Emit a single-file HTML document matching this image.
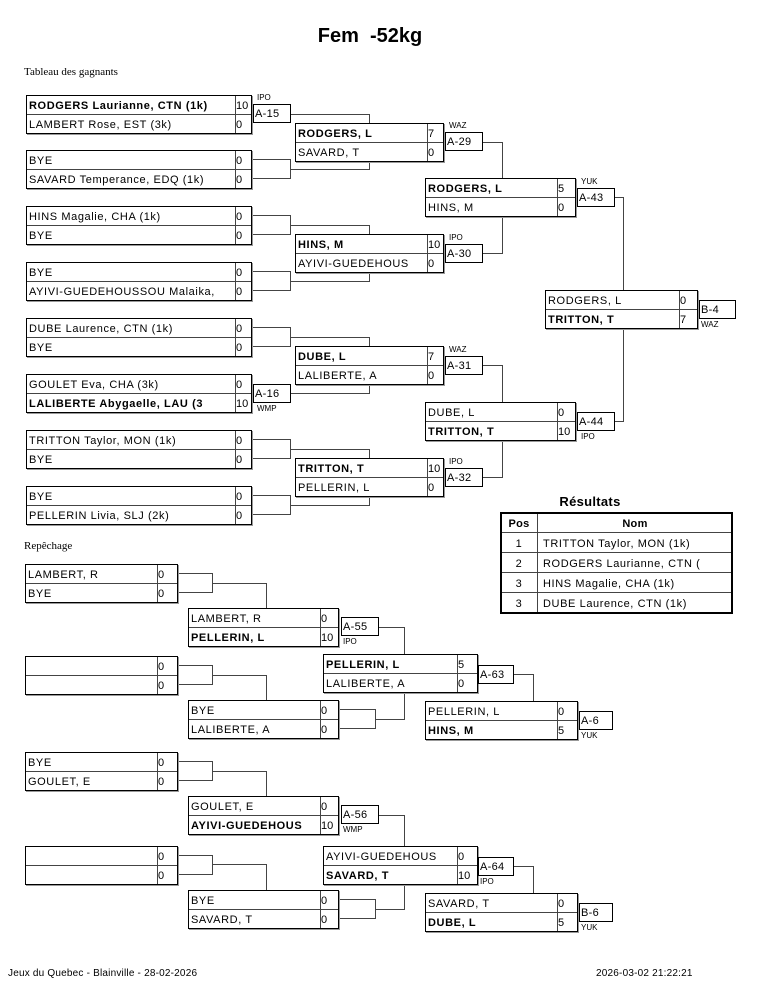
<!DOCTYPE html>
<html><head><meta charset="utf-8"><style>
html,body{margin:0;padding:0;background:#fff}
svg{display:block}
text{font-family:"Liberation Sans",sans-serif;font-size:11px;letter-spacing:0.6px;fill:#000}
.b{font-weight:bold}
.n{font-size:8px;letter-spacing:0}
.bx{fill:#fff;stroke:#000;stroke-width:1}
.sh{stroke:#999;stroke-width:1;fill:none}
.ln{stroke:#444;stroke-width:1;fill:none}
</style></head><body>
<svg width="765" height="990" viewBox="0 0 765 990" xmlns="http://www.w3.org/2000/svg">
<text x="370" y="42" text-anchor="middle" style="font-size:20px;font-weight:bold;letter-spacing:0">Fem&#160; -52kg</text>
<text x="24" y="75" style="font-family:'Liberation Serif',serif;font-size:11px;letter-spacing:0">Tableau des gagnants</text>
<text x="24" y="549" style="font-family:'Liberation Serif',serif;font-size:11px;letter-spacing:0">Repêchage</text>
<text x="8" y="976" style="font-size:10px;letter-spacing:0.2px">Jeux du Quebec - Blainville - 28-02-2026</text>
<text x="596" y="976" style="font-size:10px;letter-spacing:0.2px">2026-03-02 21:22:21</text>

<g class="ln">
<path d="M290.5 114.5H369.5V123"/>
<path d="M251 159.5H290.5V178.5H251M290.5 169.5H369.5V161"/>
<path d="M251 215.5H290.5V234.5H251M290.5 225.5H369.5V234"/>
<path d="M251 271.5H290.5V290.5H251M290.5 281.5H369.5V272"/>
<path d="M251 327.5H290.5V346.5H251M290.5 337.5H369.5V346"/>
<path d="M290.5 393.5H369.5V384"/>
<path d="M251 439.5H290.5V458.5H251M290.5 449.5H369.5V458"/>
<path d="M251 495.5H290.5V514.5H251M290.5 505.5H369.5V496"/>
<path d="M482 142.5H502.5V178"/>
<path d="M482 253.5H502.5V216"/>
<path d="M482 365.5H502.5V402"/>
<path d="M482 477.5H502.5V440"/>
<path d="M614 197.5H623.5V290"/>
<path d="M614 421.5H623.5V328"/>
<path d="M177 573.5H212.5V592.5H177M212.5 583.5H266.5V608"/>
<path d="M177 665.5H212.5V684.5H177M212.5 675.5H266.5V700"/>
<path d="M378 627.5H404.5V654"/>
<path d="M338 709.5H375.5V728.5H338M375.5 719.5H404.5V692"/>
<path d="M513 674.5H533.5V701"/>
<path d="M177 761.5H212.5V780.5H177M212.5 771.5H266.5V796"/>
<path d="M177 855.5H212.5V874.5H177M212.5 864.5H266.5V890"/>
<path d="M378 815.5H404.5V846"/>
<path d="M338 899.5H375.5V918.5H338M375.5 909.5H404.5V884"/>
<path d="M513 866.5H533.5V893"/>
</g>

<g>
<path class="sh" d="M252.5 96V134.5H27"/><rect class="bx" x="26.5" y="95.5" width="225" height="38"/><path class="ln" d="M27 114.5H251M235.5 96V133"/>
<text x="29" y="109" class="b">RODGERS Laurianne, CTN (1k)</text><text x="236" y="109" style="letter-spacing:0">10</text>
<text x="29" y="128">LAMBERT Rose, EST (3k)</text><text x="236" y="128">0</text>

<path class="sh" d="M252.5 151V189.5H27"/><rect class="bx" x="26.5" y="150.5" width="225" height="38"/><path class="ln" d="M27 169.5H251M235.5 151V188"/>
<text x="29" y="164">BYE</text><text x="236" y="164">0</text>
<text x="29" y="183">SAVARD Temperance, EDQ (1k)</text><text x="236" y="183">0</text>

<path class="sh" d="M252.5 207V245.5H27"/><rect class="bx" x="26.5" y="206.5" width="225" height="38"/><path class="ln" d="M27 225.5H251M235.5 207V244"/>
<text x="29" y="220">HINS Magalie, CHA (1k)</text><text x="236" y="220">0</text>
<text x="29" y="239">BYE</text><text x="236" y="239">0</text>

<path class="sh" d="M252.5 263V301.5H27"/><rect class="bx" x="26.5" y="262.5" width="225" height="38"/><path class="ln" d="M27 281.5H251M235.5 263V300"/>
<text x="29" y="276">BYE</text><text x="236" y="276">0</text>
<text x="29" y="295">AYIVI-GUEDEHOUSSOU Malaika,</text><text x="236" y="295">0</text>

<path class="sh" d="M252.5 319V357.5H27"/><rect class="bx" x="26.5" y="318.5" width="225" height="38"/><path class="ln" d="M27 337.5H251M235.5 319V356"/>
<text x="29" y="332">DUBE Laurence, CTN (1k)</text><text x="236" y="332">0</text>
<text x="29" y="351">BYE</text><text x="236" y="351">0</text>

<path class="sh" d="M252.5 375V413.5H27"/><rect class="bx" x="26.5" y="374.5" width="225" height="38"/><path class="ln" d="M27 393.5H251M235.5 375V412"/>
<text x="29" y="388">GOULET Eva, CHA (3k)</text><text x="236" y="388">0</text>
<text x="29" y="407" class="b">LALIBERTE Abygaelle, LAU (3</text><text x="236" y="407" style="letter-spacing:0">10</text>

<path class="sh" d="M252.5 431V469.5H27"/><rect class="bx" x="26.5" y="430.5" width="225" height="38"/><path class="ln" d="M27 449.5H251M235.5 431V468"/>
<text x="29" y="444">TRITTON Taylor, MON (1k)</text><text x="236" y="444">0</text>
<text x="29" y="463">BYE</text><text x="236" y="463">0</text>

<path class="sh" d="M252.5 487V525.5H27"/><rect class="bx" x="26.5" y="486.5" width="225" height="38"/><path class="ln" d="M27 505.5H251M235.5 487V524"/>
<text x="29" y="500">BYE</text><text x="236" y="500">0</text>
<text x="29" y="519">PELLERIN Livia, SLJ (2k)</text><text x="236" y="519">0</text>
</g>

<g>
<path class="sh" d="M444.5 124V162.5H296"/><rect class="bx" x="295.5" y="123.5" width="148" height="38"/><path class="ln" d="M296 142.5H443M427.5 124V161"/>
<text x="298" y="137" class="b">RODGERS, L</text><text x="428" y="137">7</text>
<text x="298" y="156">SAVARD, T</text><text x="428" y="156">0</text>

<path class="sh" d="M444.5 235V273.5H296"/><rect class="bx" x="295.5" y="234.5" width="148" height="38"/><path class="ln" d="M296 253.5H443M427.5 235V272"/>
<text x="298" y="248" class="b">HINS, M</text><text x="428" y="248" style="letter-spacing:0">10</text>
<text x="298" y="267">AYIVI-GUEDEHOUS</text><text x="428" y="267">0</text>

<path class="sh" d="M444.5 347V385.5H296"/><rect class="bx" x="295.5" y="346.5" width="148" height="38"/><path class="ln" d="M296 365.5H443M427.5 347V384"/>
<text x="298" y="360" class="b">DUBE, L</text><text x="428" y="360">7</text>
<text x="298" y="379">LALIBERTE, A</text><text x="428" y="379">0</text>

<path class="sh" d="M444.5 459V497.5H296"/><rect class="bx" x="295.5" y="458.5" width="148" height="38"/><path class="ln" d="M296 477.5H443M427.5 459V496"/>
<text x="298" y="472" class="b">TRITTON, T</text><text x="428" y="472" style="letter-spacing:0">10</text>
<text x="298" y="491">PELLERIN, L</text><text x="428" y="491">0</text>
</g>

<g>
<path class="sh" d="M576.5 179V217.5H426"/><rect class="bx" x="425.5" y="178.5" width="150" height="38"/><path class="ln" d="M426 197.5H575M557.5 179V216"/>
<text x="428" y="192" class="b">RODGERS, L</text><text x="558" y="192">5</text>
<text x="428" y="211">HINS, M</text><text x="558" y="211">0</text>

<path class="sh" d="M576.5 403V441.5H426"/><rect class="bx" x="425.5" y="402.5" width="150" height="38"/><path class="ln" d="M426 421.5H575M557.5 403V440"/>
<text x="428" y="416">DUBE, L</text><text x="558" y="416">0</text>
<text x="428" y="435" class="b">TRITTON, T</text><text x="558" y="435" style="letter-spacing:0">10</text>

<path class="sh" d="M698.5 291V329.5H546"/><rect class="bx" x="545.5" y="290.5" width="152" height="38"/><path class="ln" d="M546 309.5H697M679.5 291V328"/>
<text x="548" y="304">RODGERS, L</text><text x="680" y="304">0</text>
<text x="548" y="323" class="b">TRITTON, T</text><text x="680" y="323">7</text>
</g>

<g>
<rect class="bx" x="253.5" y="104.5" width="37" height="18"/><text x="255" y="117" style="letter-spacing:0.3px">A-15</text><text x="257" y="100" class="n">IPO</text>
<rect class="bx" x="253.5" y="384.5" width="37" height="18"/><text x="255" y="397" style="letter-spacing:0.3px">A-16</text><text x="257" y="411" class="n">WMP</text>
<rect class="bx" x="445.5" y="132.5" width="37" height="18"/><text x="447" y="145" style="letter-spacing:0.3px">A-29</text><text x="449" y="128" class="n">WAZ</text>
<rect class="bx" x="445.5" y="244.5" width="37" height="18"/><text x="447" y="257" style="letter-spacing:0.3px">A-30</text><text x="449" y="240" class="n">IPO</text>
<rect class="bx" x="445.5" y="356.5" width="37" height="18"/><text x="447" y="369" style="letter-spacing:0.3px">A-31</text><text x="449" y="352" class="n">WAZ</text>
<rect class="bx" x="445.5" y="468.5" width="37" height="18"/><text x="447" y="481" style="letter-spacing:0.3px">A-32</text><text x="449" y="464" class="n">IPO</text>
<rect class="bx" x="577.5" y="188.5" width="37" height="18"/><text x="579" y="201" style="letter-spacing:0.3px">A-43</text><text x="581" y="184" class="n">YUK</text>
<rect class="bx" x="577.5" y="412.5" width="37" height="18"/><text x="579" y="425" style="letter-spacing:0.3px">A-44</text><text x="581" y="439" class="n">IPO</text>
<rect class="bx" x="699.5" y="300.5" width="36" height="18"/><text x="701" y="313" style="letter-spacing:0.3px">B-4</text><text x="701" y="327" class="n">WAZ</text>
</g>

<text x="590" y="506" text-anchor="middle" style="font-size:13px;font-weight:bold;letter-spacing:0.3px">Résultats</text>
<g>
<rect x="501" y="513" width="231" height="100" fill="#fff" stroke="#000" stroke-width="2"/>
<path class="ln" stroke="#000" d="M502 532.5H731M502 552.5H731M502 572.5H731M502 592.5H731M537.5 514V612"/>
<text x="519" y="527" text-anchor="middle" class="b" style="letter-spacing:0.3px">Pos</text>
<text x="635" y="527" text-anchor="middle" class="b" style="letter-spacing:0.3px">Nom</text>
<text x="519" y="547" text-anchor="middle">1</text><text x="543" y="547">TRITTON Taylor, MON (1k)</text>
<text x="519" y="567" text-anchor="middle">2</text><text x="543" y="567">RODGERS Laurianne, CTN (</text>
<text x="519" y="587" text-anchor="middle">3</text><text x="543" y="587">HINS Magalie, CHA (1k)</text>
<text x="519" y="607" text-anchor="middle">3</text><text x="543" y="607">DUBE Laurence, CTN (1k)</text>
</g>

<g>
<path class="sh" d="M178.5 565V603.5H26"/><rect class="bx" x="25.5" y="564.5" width="152" height="38"/><path class="ln" d="M26 583.5H177M157.5 565V602"/>
<text x="28" y="578">LAMBERT, R</text><text x="158" y="578">0</text>
<text x="28" y="597">BYE</text><text x="158" y="597">0</text>

<path class="sh" d="M178.5 657V695.5H26"/><rect class="bx" x="25.5" y="656.5" width="152" height="38"/><path class="ln" d="M26 675.5H177M157.5 657V694"/>
<text x="158" y="670">0</text><text x="158" y="689">0</text>

<path class="sh" d="M178.5 753V791.5H26"/><rect class="bx" x="25.5" y="752.5" width="152" height="38"/><path class="ln" d="M26 771.5H177M157.5 753V790"/>
<text x="28" y="766">BYE</text><text x="158" y="766">0</text>
<text x="28" y="785">GOULET, E</text><text x="158" y="785">0</text>

<path class="sh" d="M178.5 847V885.5H26"/><rect class="bx" x="25.5" y="846.5" width="152" height="38"/><path class="ln" d="M26 865.5H177M157.5 847V884"/>
<text x="158" y="860">0</text><text x="158" y="879">0</text>
</g>

<g>
<path class="sh" d="M339.5 609V647.5H189"/><rect class="bx" x="188.5" y="608.5" width="150" height="38"/><path class="ln" d="M189 627.5H338M320.5 609V646"/>
<text x="191" y="622">LAMBERT, R</text><text x="321" y="622">0</text>
<text x="191" y="641" class="b">PELLERIN, L</text><text x="321" y="641" style="letter-spacing:0">10</text>

<path class="sh" d="M339.5 701V739.5H189"/><rect class="bx" x="188.5" y="700.5" width="150" height="38"/><path class="ln" d="M189 719.5H338M320.5 701V738"/>
<text x="191" y="714">BYE</text><text x="321" y="714">0</text>
<text x="191" y="733">LALIBERTE, A</text><text x="321" y="733">0</text>

<path class="sh" d="M339.5 797V835.5H189"/><rect class="bx" x="188.5" y="796.5" width="150" height="38"/><path class="ln" d="M189 815.5H338M320.5 797V834"/>
<text x="191" y="810">GOULET, E</text><text x="321" y="810">0</text>
<text x="191" y="829" class="b">AYIVI-GUEDEHOUS</text><text x="321" y="829" style="letter-spacing:0">10</text>

<path class="sh" d="M339.5 891V929.5H189"/><rect class="bx" x="188.5" y="890.5" width="150" height="38"/><path class="ln" d="M189 909.5H338M320.5 891V928"/>
<text x="191" y="904">BYE</text><text x="321" y="904">0</text>
<text x="191" y="923">SAVARD, T</text><text x="321" y="923">0</text>
</g>

<g>
<path class="sh" d="M478.5 655V693.5H324"/><rect class="bx" x="323.5" y="654.5" width="154" height="38"/><path class="ln" d="M324 673.5H477M457.5 655V692"/>
<text x="326" y="668" class="b">PELLERIN, L</text><text x="458" y="668">5</text>
<text x="326" y="687">LALIBERTE, A</text><text x="458" y="687">0</text>

<path class="sh" d="M478.5 847V885.5H324"/><rect class="bx" x="323.5" y="846.5" width="154" height="38"/><path class="ln" d="M324 865.5H477M457.5 847V884"/>
<text x="326" y="860">AYIVI-GUEDEHOUS</text><text x="458" y="860">0</text>
<text x="326" y="879" class="b">SAVARD, T</text><text x="458" y="879" style="letter-spacing:0">10</text>
</g>

<g>
<path class="sh" d="M578.5 702V740.5H426"/><rect class="bx" x="425.5" y="701.5" width="152" height="38"/><path class="ln" d="M426 720.5H577M557.5 702V739"/>
<text x="428" y="715">PELLERIN, L</text><text x="558" y="715">0</text>
<text x="428" y="734" class="b">HINS, M</text><text x="558" y="734">5</text>

<path class="sh" d="M578.5 894V932.5H426"/><rect class="bx" x="425.5" y="893.5" width="152" height="38"/><path class="ln" d="M426 912.5H577M557.5 894V931"/>
<text x="428" y="907">SAVARD, T</text><text x="558" y="907">0</text>
<text x="428" y="926" class="b">DUBE, L</text><text x="558" y="926">5</text>
</g>

<g>
<rect class="bx" x="341.5" y="617.5" width="37" height="18"/><text x="343" y="630" style="letter-spacing:0.3px">A-55</text><text x="343" y="644" class="n">IPO</text>
<rect class="bx" x="341.5" y="805.5" width="37" height="18"/><text x="343" y="818" style="letter-spacing:0.3px">A-56</text><text x="343" y="832" class="n">WMP</text>
<rect class="bx" x="478.5" y="665.5" width="35" height="18"/><text x="480" y="678" style="letter-spacing:0.3px">A-63</text>
<rect class="bx" x="478.5" y="857.5" width="35" height="18"/><text x="480" y="870" style="letter-spacing:0.3px">A-64</text><text x="480" y="884" class="n">IPO</text>
<rect class="bx" x="579.5" y="711.5" width="33" height="18"/><text x="581" y="724" style="letter-spacing:0.3px">A-6</text><text x="581" y="738" class="n">YUK</text>
<rect class="bx" x="579.5" y="903.5" width="33" height="18"/><text x="581" y="916" style="letter-spacing:0.3px">B-6</text><text x="581" y="930" class="n">YUK</text>
</g>
</svg>
</body></html>
